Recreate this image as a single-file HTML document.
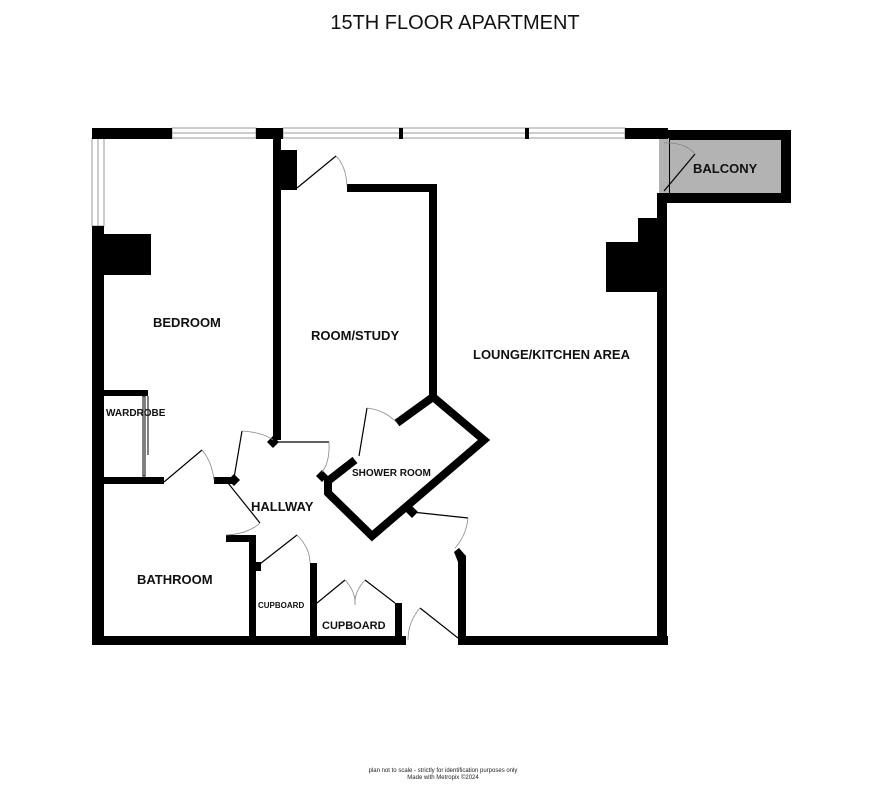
<!DOCTYPE html>
<html><head><meta charset="utf-8"><style>
html,body{margin:0;padding:0;background:#fff;}
svg{display:block;font-family:"Liberation Sans",Arial,sans-serif;}
.l{font-weight:bold;fill:#111;}
</style></head><body>
<svg width="886" height="809" viewBox="0 0 886 809">
<rect width="886" height="809" fill="#fff"/>
<text x="455" y="29" font-size="20" text-anchor="middle" fill="#111">15TH FLOOR APARTMENT</text>
<rect x="665" y="135" width="121" height="63" fill="#b3b3b3" stroke="#000" stroke-width="10"/>
<rect x="659" y="138" width="10" height="55" fill="#b3b3b3"/>
<g fill="#fff" stroke="#999" stroke-width="1">
<rect x="172" y="128" width="84" height="10"/><line x1="172" y1="133" x2="256" y2="133"/>
<rect x="283" y="128" width="342" height="10"/><line x1="283" y1="133" x2="625" y2="133"/>
<rect x="92" y="138" width="12" height="88"/><line x1="98" y1="138" x2="98" y2="226"/>
</g>
<g fill="#000">
<rect x="92" y="128" width="80" height="11"/>
<rect x="256" y="128" width="27" height="11"/>
<rect x="399" y="128" width="4" height="11"/>
<rect x="525" y="128" width="4" height="11"/>
<rect x="625" y="128" width="43" height="11"/>
<rect x="92" y="226" width="12" height="419"/>
<rect x="104" y="234" width="47" height="41"/>
<rect x="273" y="138" width="8" height="302"/>
<rect x="281" y="150" width="16" height="40"/>
<rect x="347" y="184" width="90" height="8"/>
<rect x="429" y="184" width="8" height="212"/>
<rect x="657" y="193" width="10" height="452"/>
<rect x="606" y="242" width="51" height="50"/>
<rect x="638" y="218" width="19" height="25"/>
<rect x="92" y="636" width="314" height="9"/>
<rect x="458" y="636" width="210" height="9"/>
<rect x="458" y="558" width="8" height="80"/>
<polygon points="454,552 459,548 466,556 466,562 458,562"/>
<rect x="395" y="603" width="7" height="35"/>
<rect x="310" y="563" width="7" height="75"/>
<rect x="249" y="537" width="7" height="100"/>
<rect x="226" y="535" width="30" height="7"/>
<rect x="104" y="477" width="60" height="7"/>
<rect x="214" y="477" width="20" height="7"/>
<rect x="104" y="390" width="44" height="6"/>
<rect x="256" y="562" width="5" height="9"/>
<polygon points="228,480 234,474 240,480 234,486"/>
<polygon points="267,442 273,436 279,442 273,448"/>
<polygon points="316,476 322,470 328,476 322,482"/>
<polygon points="406,512 412,506 418,512 412,518"/>
</g>
<g fill="none" stroke="#000">
<rect x="143" y="396" width="2" height="80" stroke-width="1"/>
<line x1="148" y1="396" x2="148" y2="455" stroke-width="1"/>
<polyline points="397,423 433,397 484,440 372,536 328,493 328,481 355,460" stroke-width="8" stroke-linejoin="miter"/>
</g>
<g fill="none" stroke="#000" stroke-width="1.2">
<line x1="297" y1="188" x2="336" y2="156"/>
<line x1="359" y1="456" x2="367" y2="408"/>
<line x1="164" y1="482" x2="202" y2="450"/>
<line x1="234" y1="478" x2="242" y2="431"/>
<line x1="278" y1="442" x2="329" y2="442"/>
<line x1="228" y1="483" x2="260" y2="523"/>
<line x1="256" y1="567" x2="297" y2="535"/>
<line x1="317" y1="603" x2="345" y2="580"/>
<line x1="395" y1="603" x2="365" y2="580"/>
<line x1="420" y1="608" x2="458" y2="638"/>
<line x1="412" y1="512" x2="468" y2="518"/>
<line x1="664" y1="191" x2="695" y2="154"/>
</g>
<g fill="none" stroke="#888" stroke-width="0.8">
<path d="M336,156 Q346,166 347,186"/>
<path d="M367,408 Q385,410 397,423"/>
<path d="M202,450 Q212,462 214,480"/>
<path d="M242,431 Q262,432 273,440"/>
<path d="M329,442 Q330,462 322,472"/>
<path d="M260,523 Q248,534 226,535"/>
<path d="M297,535 Q310,548 310,563"/>
<path d="M345,580 Q356,592 355,605 Q354,592 365,580"/>
<path d="M420,608 Q408,622 408,640"/>
<path d="M468,518 Q466,536 455,548"/>
<path d="M664,143 Q685,142 695,154"/>
</g>
<g class="l">
<text x="153" y="327" font-size="13">BEDROOM</text>
<text x="311" y="340" font-size="13">ROOM/STUDY</text>
<text x="473" y="359" font-size="13">LOUNGE/KITCHEN AREA</text>
<text x="693" y="173" font-size="13">BALCONY</text>
<text x="106" y="416" font-size="10">WARDROBE</text>
<text x="352" y="476" font-size="10">SHOWER ROOM</text>
<text x="251" y="511" font-size="13">HALLWAY</text>
<text x="137" y="584" font-size="13">BATHROOM</text>
<text x="258" y="608" font-size="8">CUPBOARD</text>
<text x="322" y="629" font-size="11">CUPBOARD</text>
</g>
<text x="443" y="772" font-size="6" text-anchor="middle" fill="#222">plan not to scale - strictly for identification purposes only</text>
<text x="443" y="779" font-size="6" text-anchor="middle" fill="#222">Made with Metropix ©2024</text>
</svg>
</body></html>
